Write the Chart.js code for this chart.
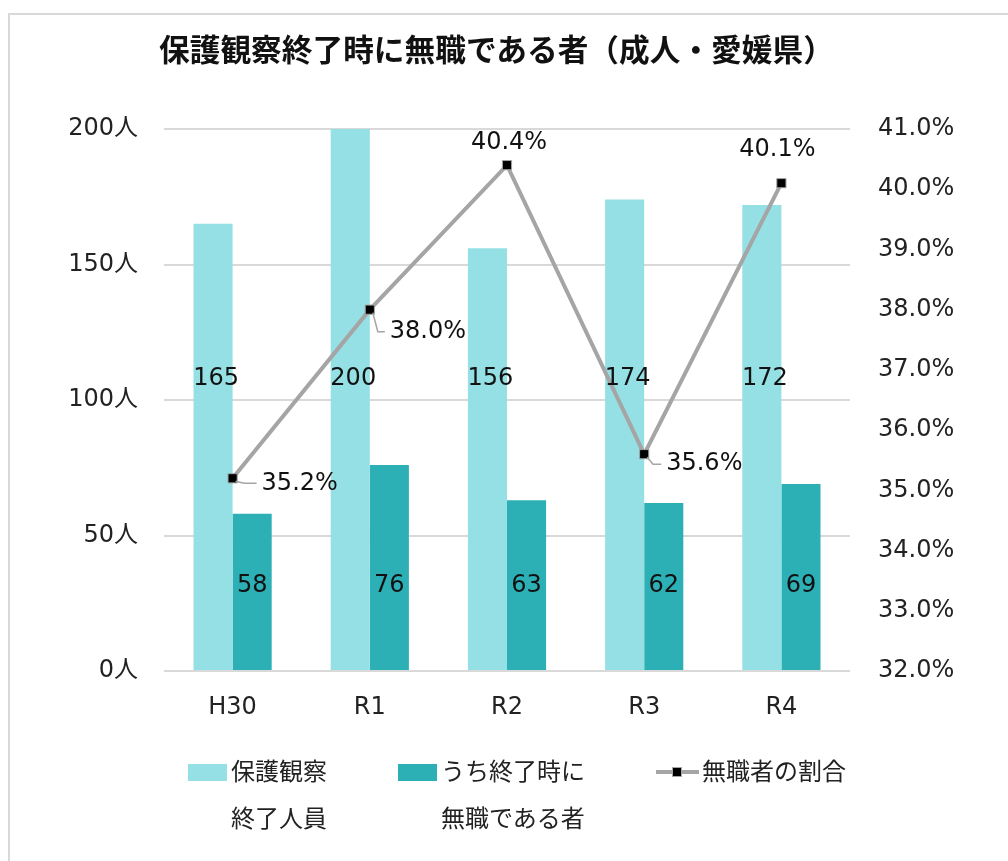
<!DOCTYPE html>
<html lang="ja">
<head>
<meta charset="utf-8">
<script src="https://cdn.jsdelivr.net/npm/chart.js@4.4.0/dist/chart.umd.min.js"></script>
<style>
body { margin: 0; background: #fff; width: 1008px; height: 861px; overflow: hidden; position: relative; font-family: "Noto Sans CJK JP", sans-serif; }
.frame { position: absolute; left: 8px; top: 13px; width: 1100px; height: 900px; border-left: 2px solid #d9d9d9; border-top: 2px solid #d9d9d9; }
#chart { position: absolute; left: 0; top: 0; }
.title { position: absolute; left: 159px; top: 28px; font-size: 30.7px; font-weight: 700; color: #111; white-space: nowrap; line-height: 40px; }
.sw { position: absolute; top: 764px; width: 39px; height: 17px; }
.lg { position: absolute; top: 746px; font-size: 24px; line-height: 47px; color: #222; white-space: nowrap; }
.lline { position: absolute; left: 656px; top: 770px; width: 43px; height: 4px; background: #a5a5a5; }
.lmark { position: absolute; left: 672px; top: 767px; width: 8px; height: 8px; background: #000; border: 1px solid #a5a5a5; }
</style>
</head>
<body>
<div class="frame"></div>
<canvas id="chart" width="1008" height="861"></canvas>
<div class="title">保護観察終了時に無職である者（成人・愛媛県）</div>
<div class="sw" style="left:188px;background:#94e0e4"></div>
<div class="lg" style="left:231px">保護観察<br>終了人員</div>
<div class="sw" style="left:398px;background:#2cb0b6"></div>
<div class="lg" style="left:441px">うち終了時に<br>無職である者</div>
<div class="lline"></div>
<div class="lmark"></div>
<div class="lg" style="left:702px">無職者の割合</div>
<script>
// data
const categories = ["H30", "R1", "R2", "R3", "R4"];
const endedCount = [165, 200, 156, 174, 172];
const joblessCount = [58, 76, 63, 62, 69];
const joblessRate = [35.2, 38.0, 40.4, 35.6, 40.1];

const ctx = document.getElementById("chart").getContext("2d");
Chart.defaults.font.family = "'DejaVu Sans', 'Noto Sans CJK JP', sans-serif";
Chart.defaults.color = "#222";

// value labels (bars at fixed heights like the excel chart, rate labels with leaders)
const rateOffsets = [[29, 5, true], [20, 22, true], [2, -22, false], [22, 10, true], [-4, -33, false]];
const valueLabels = {
	id: "valueLabels",
	afterDatasetsDraw(chart) {
		const c = chart.ctx;
		const y = chart.scales.y;
		c.save();
		c.font = "24px 'DejaVu Sans'";
		c.fillStyle = "#111";
		c.textAlign = "center";
		c.textBaseline = "middle";
		chart.getDatasetMeta(1).data.forEach((bar, i) => {
			c.fillText(endedCount[i], bar.x + 3, y.getPixelForValue(108));
		});
		chart.getDatasetMeta(2).data.forEach((bar, i) => {
			c.fillText(joblessCount[i], bar.x, y.getPixelForValue(31.5));
		});
		chart.getDatasetMeta(0).data.forEach((pt, i) => {
			const [dx, dy, leader] = rateOffsets[i];
			const text = joblessRate[i].toFixed(1) + "%";
			if (leader) {
				c.strokeStyle = "#a5a5a5";
				c.lineWidth = 1.5;
				c.beginPath();
				c.moveTo(pt.x + 3, pt.y + 3);
				c.lineTo(pt.x + dx * 0.4, pt.y + dy);
				c.lineTo(pt.x + dx - 5, pt.y + dy);
				c.stroke();
				c.textAlign = "left";
				c.fillText(text, pt.x + dx, pt.y + dy);
			} else {
				c.textAlign = "center";
				c.fillText(text, pt.x + dx, pt.y + dy);
			}
		});
		c.restore();
	},
};

new Chart(ctx, {
	type: "bar",
	data: {
		labels: categories,
		datasets: [
			{
				type: "line",
				label: "無職者の割合",
				data: joblessRate,
				yAxisID: "y1",
				borderColor: "#a5a5a5",
				borderWidth: 4,
				pointStyle: "rect",
				pointRadius: 6.5,
				pointBackgroundColor: "#000",
				pointBorderColor: "#a5a5a5",
				pointBorderWidth: 1,
				order: 0,
			},
			{
				label: "保護観察終了人員",
				data: endedCount,
				backgroundColor: "#94e0e4",
				categoryPercentage: 0.57,
				barPercentage: 1,
				order: 1,
			},
			{
				label: "うち終了時に無職である者",
				data: joblessCount,
				backgroundColor: "#2cb0b6",
				categoryPercentage: 0.57,
				barPercentage: 1,
				order: 1,
			},
		],
	},
	options: {
		responsive: false,
		animation: false,
		layout: { padding: { top: 129, bottom: 130, left: 0, right: 0 } },
		plugins: {
			legend: { display: false },
			tooltip: { enabled: false },
		},
		scales: {
			x: {
				grid: { display: false },
				border: { display: false },
				ticks: { font: { size: 24 }, padding: 14, color: "#222" },
				afterFit: (scale) => { scale.height = 60; },
			},
			y: {
				position: "left",
				min: 0,
				max: 200,
				ticks: { stepSize: 50, font: { size: 24 }, padding: 26, callback: (v) => v + "人" },
				grid: { color: "#d9d9d9", lineWidth: 2, drawTicks: false },
				border: { display: false },
				afterFit: (scale) => { scale.width = 164; },
			},
			y1: {
				position: "right",
				min: 32,
				max: 41,
				ticks: { stepSize: 1, font: { size: 24 }, padding: 28, callback: (v) => v.toFixed(1) + "%" },
				grid: { display: false, drawTicks: false },
				border: { display: false },
				afterFit: (scale) => { scale.width = 158; },
			},
		},
	},
	plugins: [valueLabels],
});
</script>
</body>
</html>
